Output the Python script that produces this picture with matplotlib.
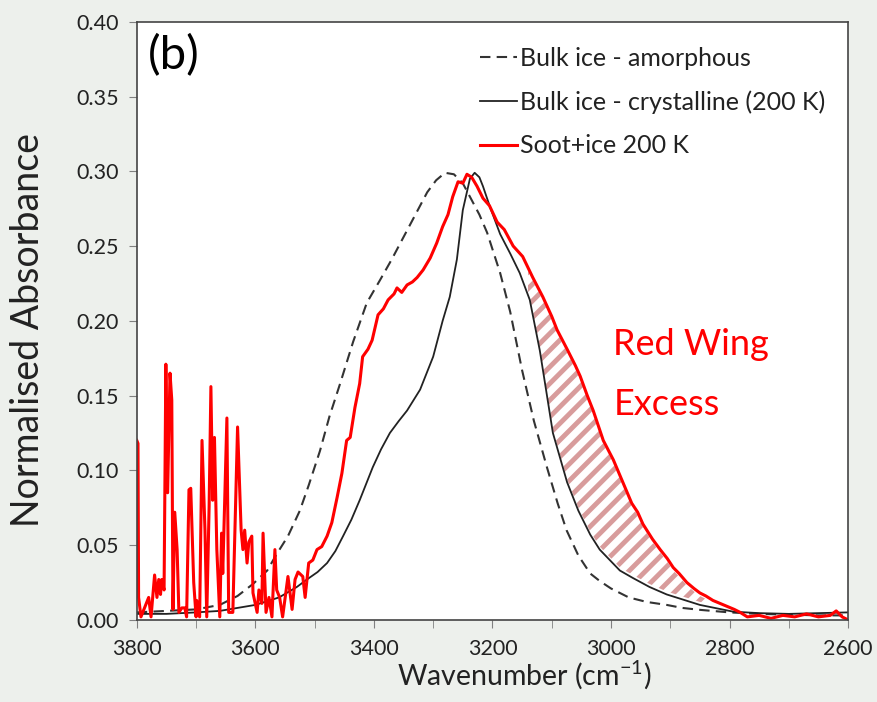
import numpy as np
import matplotlib.pyplot as plt
from matplotlib.ticker import MultipleLocator, FormatStrFormatter

# wavenumber (cm-1) / normalised absorbance
wn_amor = [3800, 3750, 3700, 3660, 3630, 3604, 3580, 3564, 3545, 3525, 3510,
           3491, 3475, 3457, 3435, 3412, 3390, 3370, 3350, 3330, 3310, 3295,
           3280, 3265, 3250, 3238, 3222, 3209, 3187, 3170, 3150, 3130, 3108,
           3090, 3075, 3055, 3035, 3019, 3000, 2970, 2940, 2906, 2880, 2850,
           2800, 2750, 2700, 2650, 2600]
abs_amor = [0.005, 0.006, 0.007, 0.010, 0.016, 0.024, 0.033, 0.044, 0.056,
            0.073, 0.090, 0.113, 0.136, 0.158, 0.186, 0.212, 0.227, 0.241,
            0.256, 0.271, 0.286, 0.294, 0.299, 0.298, 0.292, 0.283, 0.271,
            0.259, 0.232, 0.206, 0.167, 0.133, 0.102, 0.078, 0.060, 0.043,
            0.031, 0.026, 0.021, 0.015, 0.012, 0.010, 0.008, 0.0067, 0.005,
            0.004, 0.0035, 0.003, 0.003]

wn_cryst = [3800, 3750, 3700, 3660, 3600, 3560, 3530, 3513, 3495, 3479, 3465,
            3452, 3438, 3424, 3413, 3402, 3388, 3373, 3358, 3344, 3322, 3300,
            3284, 3272, 3260, 3250, 3238, 3230, 3222, 3216, 3204, 3187, 3170,
            3154, 3137, 3120, 3098, 3074, 3055, 3035, 3019, 2985, 2963, 2935,
            2906, 2850, 2794, 2750, 2700, 2650, 2600]
abs_cryst = [0.004, 0.004, 0.005, 0.006, 0.010, 0.015, 0.022, 0.027, 0.032,
             0.038, 0.046, 0.056, 0.067, 0.080, 0.091, 0.102, 0.114, 0.125,
             0.133, 0.140, 0.154, 0.176, 0.200, 0.216, 0.241, 0.274, 0.295,
             0.299, 0.296, 0.290, 0.276, 0.258, 0.245, 0.232, 0.214, 0.180,
             0.125, 0.092, 0.073, 0.057, 0.047, 0.033, 0.028, 0.022, 0.017,
             0.010, 0.0055, 0.0045, 0.004, 0.0045, 0.005]

wn_soot = [3800, 3798, 3797, 3793, 3780, 3776, 3770, 3766, 3763, 3760, 3758,
           3754, 3751, 3748, 3744, 3741, 3739, 3736, 3732, 3729, 3724, 3719,
           3716, 3712, 3709, 3704, 3700, 3699, 3694, 3690, 3685, 3682, 3678,
           3675, 3672, 3669, 3665, 3660, 3657, 3655, 3648, 3645, 3638, 3630,
           3624, 3621, 3618, 3614, 3611, 3606, 3604, 3597, 3594, 3589, 3587,
           3582, 3577, 3572, 3567, 3564, 3559, 3554, 3545, 3538, 3533, 3528,
           3520, 3516, 3510, 3503, 3496, 3488, 3479, 3471, 3462, 3454, 3446,
           3440, 3432, 3424, 3419, 3410, 3403, 3393, 3384, 3376, 3366, 3361,
           3353, 3344, 3335, 3327, 3317, 3305, 3294, 3284, 3275, 3267, 3258,
           3250, 3243, 3235, 3226, 3216, 3205, 3192, 3180, 3165, 3149, 3132,
           3115, 3100, 3091, 3074, 3060, 3052, 3040, 3030, 3013, 2996, 2980,
           2965, 2955, 2946, 2930, 2917, 2905, 2895, 2885, 2872, 2860, 2850,
           2840, 2828, 2816, 2804, 2792, 2782, 2770, 2750, 2730, 2710, 2690,
           2670, 2650, 2630, 2620, 2610, 2600]
abs_soot = [0.120, 0.118, 0.015, 0.002, 0.015, 0.002, 0.030, 0.015, 0.027,
            0.017, 0.027, 0.020, 0.171, 0.085, 0.165, 0.147, 0.007, 0.072,
            0.047, 0.005, 0.008, 0.008, 0.002, 0.087, 0.088, 0.025, 0.002,
            0.013, 0.002, 0.120, 0.060, 0.002, 0.076, 0.156, 0.080, 0.122,
            0.047, 0.002, 0.058, 0.031, 0.135, 0.005, 0.005, 0.129, 0.060,
            0.047, 0.060, 0.038, 0.052, 0.056, 0.018, 0.005, 0.020, 0.011,
            0.058, 0.005, 0.015, 0.002, 0.047, 0.020, 0.015, 0.002, 0.029,
            0.007, 0.027, 0.032, 0.029, 0.015, 0.038, 0.040, 0.047, 0.049,
            0.056, 0.065, 0.082, 0.098, 0.120, 0.122, 0.142, 0.158, 0.176,
            0.181, 0.187, 0.204, 0.208, 0.214, 0.218, 0.222, 0.219, 0.224,
            0.226, 0.229, 0.234, 0.242, 0.252, 0.263, 0.271, 0.283, 0.293,
            0.292, 0.298, 0.296, 0.290, 0.282, 0.277, 0.266, 0.261, 0.250,
            0.243, 0.229, 0.216, 0.203, 0.194, 0.181, 0.170, 0.163, 0.150,
            0.140, 0.120, 0.107, 0.092, 0.078, 0.072, 0.064, 0.054, 0.047,
            0.041, 0.035, 0.031, 0.025, 0.021, 0.018, 0.016, 0.013, 0.011,
            0.009, 0.007, 0.005, 0.002, 0.003, 0.001, 0.003, 0.002, 0.004,
            0.002, 0.003, 0.006, 0.002, 0.000]

labels = ["Bulk ice - amorphous", "Bulk ice - crystalline (200 K)",
          "Soot+ice 200 K"]
excess_range = (3140, 2840)

plt.rcParams['font.family'] = ['Lato', 'DejaVu Sans']
plt.rcParams['mathtext.fontset'] = 'custom'
plt.rcParams['mathtext.rm'] = 'Lato'
plt.rcParams['hatch.linewidth'] = 3.5

fig = plt.figure(figsize=(8.77, 7.02), dpi=100, facecolor='#edf0ec')
ax = fig.add_axes([0.156, 0.117, 0.811, 0.852])
ax.set_facecolor('white')

ax.plot(wn_amor, abs_amor, color='#333333', lw=1.5, ls=(0, (5, 3)),
        label=labels[0])
ax.plot(wn_cryst, abs_cryst, color='#222222', lw=1.3, label=labels[1])
ax.plot(wn_soot, abs_soot, color='#ff0000', lw=2.2, label=labels[2])

# hatched "red wing excess" between soot+ice and crystalline ice
xf = np.linspace(excess_range[1], excess_range[0], 200)
top = np.interp(xf, wn_soot[::-1], abs_soot[::-1])
bot = np.interp(xf, wn_cryst[::-1], abs_cryst[::-1])
ax.fill_between(xf, bot + 0.002, top - 0.002, facecolor='none',
                edgecolor='#d89c9c', hatch='//', linewidth=0, zorder=1)

ax.set_xlim(3800, 2600)
ax.set_ylim(0, 0.40)
ax.xaxis.set_major_locator(MultipleLocator(200))
ax.xaxis.set_minor_locator(MultipleLocator(100))
ax.yaxis.set_major_locator(MultipleLocator(0.05))
ax.yaxis.set_major_formatter(FormatStrFormatter('%.2f'))
ax.tick_params(axis='both', which='both', direction='out', length=6,
               color='#808080', labelsize=15.5, labelcolor='#222222')
ax.tick_params(axis='x', pad=8)
ax.tick_params(axis='y', pad=7)
for s in ax.spines.values():
    s.set_color('#444444')
    s.set_linewidth(1.2)

ax.set_xlabel('Wavenumber (cm$^{\\mathrm{-1}}$)', fontsize=20.5,
              color='#222222')
ax.xaxis.set_label_coords(0.545, -0.065)
ax.set_ylabel('Normalised Absorbance', fontsize=27, color='#222222')
ax.yaxis.set_label_coords(-0.128, 0.485)

ax.text(0.016, 0.98, '(b)', transform=ax.transAxes, fontsize=34,
        va='top', ha='left', color='black')
ax.text(0.67, 0.46, 'Red Wing', transform=ax.transAxes, fontsize=26,
        color='#ff0000', va='center')
ax.text(0.67, 0.36, 'Excess', transform=ax.transAxes, fontsize=26,
        color='#ff0000', va='center')

ax.legend(loc='upper left', bbox_to_anchor=(0.482, 0.958), frameon=False,
          fontsize=18, handlelength=1.5, handletextpad=0.12,
          labelspacing=0.82, borderpad=0, borderaxespad=0,
          labelcolor='#222222')

fig.savefig('out.png', dpi=100, facecolor=fig.get_facecolor())
